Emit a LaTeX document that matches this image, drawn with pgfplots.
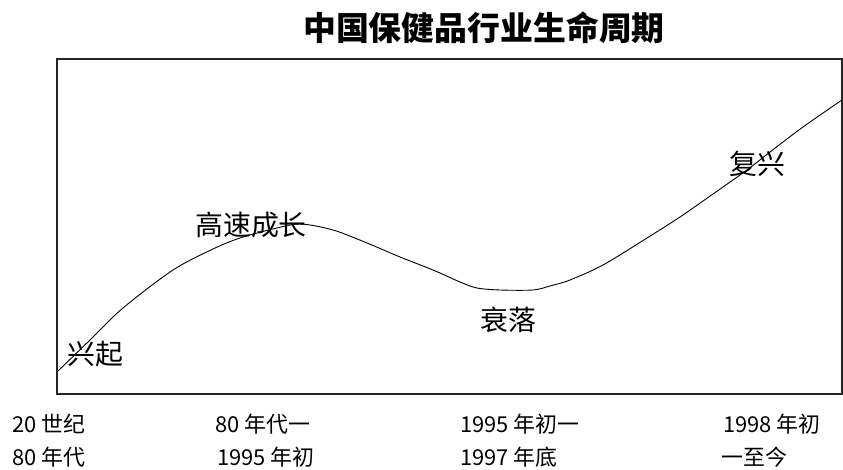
\documentclass[border=0pt]{standalone}
\usepackage{fontspec}
\setmainfont{Noto Sans CJK SC}
\usepackage{pgfplots}
\pgfplotsset{compat=1.18}
\begin{document}
\begin{tikzpicture}[x=1bp,y=1bp]
\path[use as bounding box] (-57,-76) rectangle (786,394);
\begin{axis}[
  at={(0,0)}, anchor=south west,
  scale only axis, width=785bp, height=335bp,
  xmin=57, xmax=842, ymin=0, ymax=335,
  xtick=\empty, ytick=\empty,
  axis line style={line width=1.2bp, black!85},
  clip=false,
]
\addplot[smooth, black, line width=0.9bp] coordinates {
(57,22) (90,54) (123,86) (173,124) (213,145) (240,156) (273,165) (300,170)
(333,164) (367,151) (400,137) (433,124) (460,112) (477,106) (500,104) (533,104)
(550,108) (570,114) (603,129) (647,156) (680,177) (713,200) (747,224) (770,242)
(803,267) (842,294)
};
\node[inner sep=0, font=\fontsize{28}{30}\selectfont] at (axis cs:95,40) {兴起};
\node[inner sep=0, font=\fontsize{28}{30}\selectfont] at (axis cs:251,169) {高速成长};
\node[inner sep=0, font=\fontsize{28}{30}\selectfont] at (axis cs:508,74) {衰落};
\node[inner sep=0, font=\fontsize{28}{30}\selectfont] at (axis cs:757,230) {复兴};
\node[inner sep=0, font=\fontsize{33}{36}\selectfont\bfseries] at (axis cs:484,366) {中国保健品行业生命周期};
\begin{scope}[every node/.style={inner sep=0, anchor=base west, font=\fontsize{22}{24}\selectfont}]
\node at (axis cs:12,-39) {20 世纪};
\node at (axis cs:12,-72) {80 年代};
\node at (axis cs:215,-39) {80 年代一};
\node at (axis cs:217,-72) {1995 年初};
\node at (axis cs:460,-39) {1995 年初一};
\node at (axis cs:460,-72) {1997 年底};
\node at (axis cs:723,-39) {1998 年初};
\node at (axis cs:721,-72) {一至今};
\end{scope}
\end{axis}
\end{tikzpicture}
\end{document}
